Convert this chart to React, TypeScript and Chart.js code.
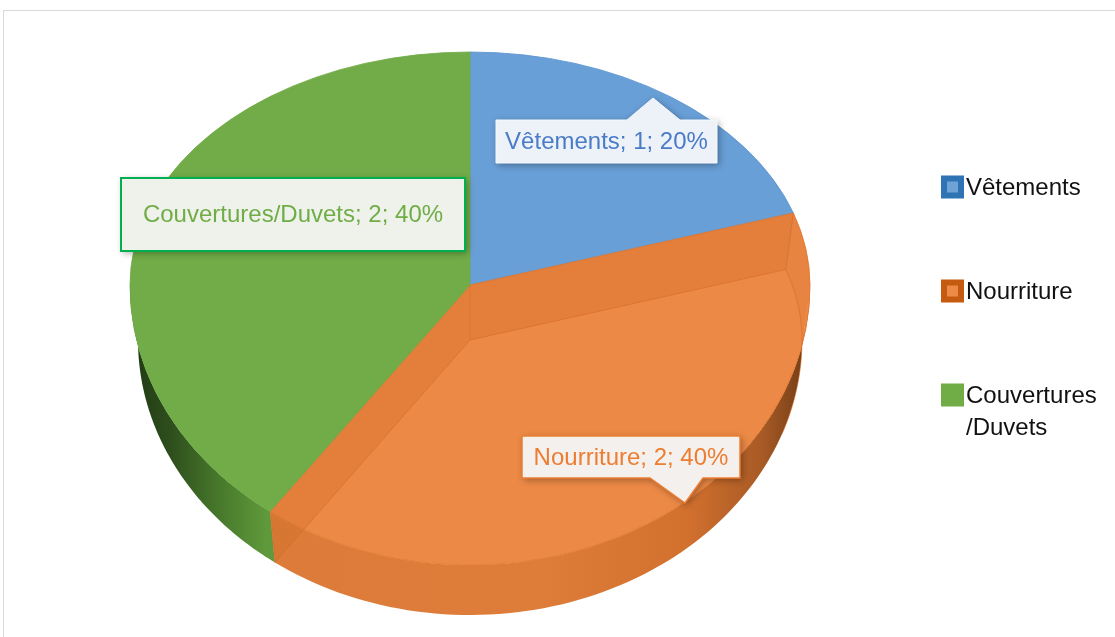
import React, { useEffect, useRef } from "react";
import { Chart, registerables } from "chart.js";

Chart.register(...registerables);

// ---- data ----
const categories = ["Vêtements", "Nourriture", "Couvertures/Duvets"];
const values = [1, 2, 2];
const legendLines = [["Vêtements"], ["Nourriture"], ["Couvertures", "/Duvets"]];

// ---- styles ----
const topColors = ["#689fd6", "#ec8946", "#71ac48"];
const borderColors = ["#5b93cf", "#e37a32", "#71ac48"];
const legendOuter = ["#2e74b5", "#c55a11", "#70ad47"];
const legendInner = ["#6fa3d8", "#ee8a48", "#70ad47"];
const labelText = ["#4a7bc8", "#ed7d31", "#70ad47"];
const labelFill = ["#edf2f9", "#f4f0ed", "#eff2eb"];
const labelStroke = ["#f7f9fd", "#ed7d31", "#00b050"];
const labelStrokeW = [1, 1.5, 2];

const FONT = '"Liberation Sans", Arial, sans-serif';
const RADIUS = 340;
// perspective-ish geometry (ratios of the radius)
const TOP_SY_UP = 233 / 340; // upper half of top face
const TOP_SY_DN = 280 / 340; // lower half of top face
const BOT_SX = 332 / 340; // bottom rim width
const BOT_SY_UP = 228 / 340;
const BOT_SY_DN = 275 / 340;
const DEPTH = 55;

// label boxes: offsets relative to pie centre (px)
const labelLayout = [
  { dx: 136.5, dy: -143.5, w: 221, h: 43, ptr: { side: "top", b1: 157, b2: 210, tx: 183, ty: -187 } },
  { dx: 161, dy: 172, w: 218, h: 42, ptr: { side: "bottom", b1: 180, b2: 233, tx: 215, ty: 218 } },
  { dx: -177, dy: -70.5, w: 344, h: 73, ptr: null },
];

const total = values.reduce((a, b) => a + b, 0);
const labelStrings = categories.map(
  (c, i) => `${c}; ${values[i]}; ${Math.round((values[i] / total) * 100)}%`
);

const sideStops: [number, string][][] = [
  [],
  [
    [0.0, "#dc7b3a"],
    [0.6, "#de7d3a"],
    [0.82, "#d2702e"],
    [0.93, "#a85a25"],
    [1.0, "#6e3a14"],
  ],
  [
    [0.0, "#1f3813"],
    [0.06, "#2e4f1d"],
    [0.13, "#47782b"],
    [0.2, "#5f993b"],
    [1.0, "#5f993b"],
  ],
];

function geom(chart: any) {
  const arcs = chart.getDatasetMeta(0).data as any[];
  const cx = arcs[0].x;
  const cy = arcs[0].y;
  const r = arcs[0].outerRadius;
  const top = (a: number) => {
    const s = Math.sin(a);
    return [cx + r * Math.cos(a), cy + r * s * (s < 0 ? TOP_SY_UP : TOP_SY_DN)];
  };
  const bot = (a: number) => {
    const s = Math.sin(a);
    return [cx + r * BOT_SX * Math.cos(a), cy + DEPTH + r * s * (s < 0 ? BOT_SY_UP : BOT_SY_DN)];
  };
  return { arcs, cx, cy, r, top, bot };
}

function tracePath(ctx: any, f: (a: number) => number[], a0: number, a1: number, first: boolean) {
  const n = 80;
  for (let k = 0; k <= n; k++) {
    const a = a0 + ((a1 - a0) * k) / n;
    const [x, y] = f(a);
    if (k === 0 && first) ctx.moveTo(x, y);
    else ctx.lineTo(x, y);
  }
}

const pie3d = {
  id: "pie3d",
  beforeDatasetsDraw(chart: any) {
    const ctx = chart.ctx;
    const { arcs, cx, cy, r, top, bot } = geom(chart);
    // front side walls
    arcs.forEach((arc: any, i: number) => {
      const s = Math.max(arc.startAngle, 0);
      const e = Math.min(arc.endAngle, Math.PI);
      if (e <= s) return;
      const g = ctx.createLinearGradient(cx - r, 0, cx + r, 0);
      sideStops[i].forEach(([o, c]) => g.addColorStop(o, c));
      ctx.save();
      ctx.beginPath();
      tracePath(ctx, top, s, e, true);
      tracePath(ctx, bot, e, s, false);
      ctx.closePath();
      ctx.fillStyle = g;
      ctx.fill();
      ctx.restore();
    });
    // upper half of the top face (drawn by Chart.js)
    ctx.save();
    ctx.beginPath();
    ctx.rect(0, 0, chart.width, Math.round(cy));
    ctx.clip();
    ctx.translate(cx, cy);
    ctx.scale(1, TOP_SY_UP);
    ctx.translate(-cx, -cy);
  },
  afterDatasetsDraw(chart: any) {
    const ctx = chart.ctx;
    ctx.restore();
    const { arcs, cx, cy, top, bot } = geom(chart);
    // lower half of the top face
    ctx.save();
    ctx.beginPath();
    ctx.rect(0, Math.round(cy), chart.width, chart.height);
    ctx.clip();
    ctx.translate(cx, cy);
    ctx.scale(1, TOP_SY_DN);
    ctx.translate(-cx, -cy);
    chart.getDatasetMeta(0).controller.draw();
    ctx.restore();

    // translucent inner walls of the orange slice
    const arc = arcs[1];
    const overlay = "rgba(200,100,30,0.26)";
    const edge = "rgba(212,104,34,0.55)";
    [arc.startAngle, arc.endAngle].forEach((a: number) => {
      const [px, py] = top(a);
      const [qx, qy] = bot(a);
      ctx.save();
      ctx.beginPath();
      ctx.moveTo(cx, cy);
      ctx.lineTo(px, py);
      ctx.lineTo(qx, qy);
      ctx.lineTo(cx, cy + DEPTH);
      ctx.closePath();
      ctx.fillStyle = overlay;
      ctx.fill();
      ctx.beginPath();
      ctx.moveTo(cx, cy + DEPTH);
      ctx.lineTo(qx, qy);
      ctx.lineTo(px, py);
      ctx.strokeStyle = edge;
      ctx.lineWidth = 1;
      ctx.stroke();
      ctx.restore();
    });
    // back wall of the orange slice seen through
    const a0 = arc.startAngle;
    if (a0 < 0) {
      ctx.save();
      ctx.beginPath();
      tracePath(ctx, top, a0, 0, true);
      tracePath(ctx, bot, 0, a0, false);
      ctx.closePath();
      ctx.fillStyle = "rgba(200,100,30,0.12)";
      ctx.fill();
      ctx.beginPath();
      tracePath(ctx, bot, a0, 0.35, true);
      ctx.strokeStyle = edge;
      ctx.lineWidth = 1;
      ctx.stroke();
      ctx.restore();
    }
    ctx.save();
    ctx.beginPath();
    ctx.moveTo(cx, cy);
    ctx.lineTo(cx, cy + DEPTH);
    ctx.strokeStyle = "rgba(215,105,35,0.45)";
    ctx.stroke();
    ctx.restore();
  },
};

const callouts = {
  id: "callouts",
  afterDraw(chart: any) {
    const ctx = chart.ctx;
    const { cx, cy } = geom(chart);
    labelLayout.forEach((L, i) => {
      const x0 = cx + L.dx - L.w / 2;
      const y0 = cy + L.dy - L.h / 2;
      const x1 = x0 + L.w;
      const y1 = y0 + L.h;
      ctx.save();
      ctx.beginPath();
      ctx.moveTo(x0, y0);
      if (L.ptr && L.ptr.side === "top") {
        ctx.lineTo(cx + L.ptr.b1, y0);
        ctx.lineTo(cx + L.ptr.tx, cy + L.ptr.ty);
        ctx.lineTo(cx + L.ptr.b2, y0);
      }
      ctx.lineTo(x1, y0);
      ctx.lineTo(x1, y1);
      if (L.ptr && L.ptr.side === "bottom") {
        ctx.lineTo(cx + L.ptr.b2, y1);
        ctx.lineTo(cx + L.ptr.tx, cy + L.ptr.ty);
        ctx.lineTo(cx + L.ptr.b1, y1);
      }
      ctx.lineTo(x0, y1);
      ctx.closePath();
      ctx.shadowColor = "rgba(0,0,0,0.35)";
      ctx.shadowBlur = 7;
      ctx.shadowOffsetX = 2;
      ctx.shadowOffsetY = 2;
      ctx.fillStyle = labelFill[i];
      ctx.fill();
      ctx.shadowColor = "transparent";
      ctx.lineWidth = labelStrokeW[i];
      ctx.strokeStyle = labelStroke[i];
      ctx.stroke();
      ctx.fillStyle = labelText[i];
      ctx.font = `24px ${FONT}`;
      ctx.textAlign = "center";
      ctx.textBaseline = "middle";
      ctx.fillText(labelStrings[i], cx + L.dx, cy + L.dy + 1);
      ctx.restore();
    });
  },
};

const legendPlugin = {
  id: "customLegend",
  afterDraw(chart: any) {
    const ctx = chart.ctx;
    const lx = 941;
    const startY = 187;
    const gap = 104;
    const lineH = 32;
    categories.forEach((_, i) => {
      const y = startY + i * gap;
      ctx.save();
      ctx.fillStyle = legendOuter[i];
      ctx.fillRect(lx, y - 11.5, 23, 23);
      ctx.fillStyle = legendInner[i];
      ctx.fillRect(lx + 6, y - 5.5, 11, 11);
      ctx.fillStyle = "#111";
      ctx.font = `24px ${FONT}`;
      ctx.textAlign = "left";
      ctx.textBaseline = "middle";
      legendLines[i].forEach((t, k) => ctx.fillText(t, lx + 25, y + 1 + k * lineH));
      ctx.restore();
    });
  },
};

export default function App() {
  const ref = useRef<HTMLCanvasElement>(null);
  useEffect(() => {
    const chart = new Chart(ref.current as HTMLCanvasElement, {
      type: "pie",
      data: {
        labels: categories,
        datasets: [
          {
            data: values,
            backgroundColor: topColors,
            borderColor: borderColors,
            borderWidth: 1,
            radius: RADIUS,
            clip: false,
          } as any,
        ],
      },
      options: {
        responsive: false,
        animation: false,
        events: [],
        layout: { padding: { left: 130, right: 305, top: 50, bottom: 117 } },
        plugins: { legend: { display: false }, tooltip: { enabled: false } },
      } as any,
      plugins: [pie3d, callouts, legendPlugin],
    });
    return () => chart.destroy();
  }, []);
  return (
    <div
      style={{
        position: "fixed",
        left: 0,
        top: 0,
        width: 1115,
        height: 637,
        overflow: "hidden",
        background: "#fff",
      }}
    >
      <div
        style={{
          position: "absolute",
          left: 3,
          top: 10,
          width: 1200,
          height: 700,
          border: "1px solid #d9d9d9",
        }}
      />
      <canvas
        ref={ref}
        width={1115}
        height={637}
        style={{ position: "absolute", left: 0, top: 0, width: 1115, height: 637 }}
      />
    </div>
  );
}
